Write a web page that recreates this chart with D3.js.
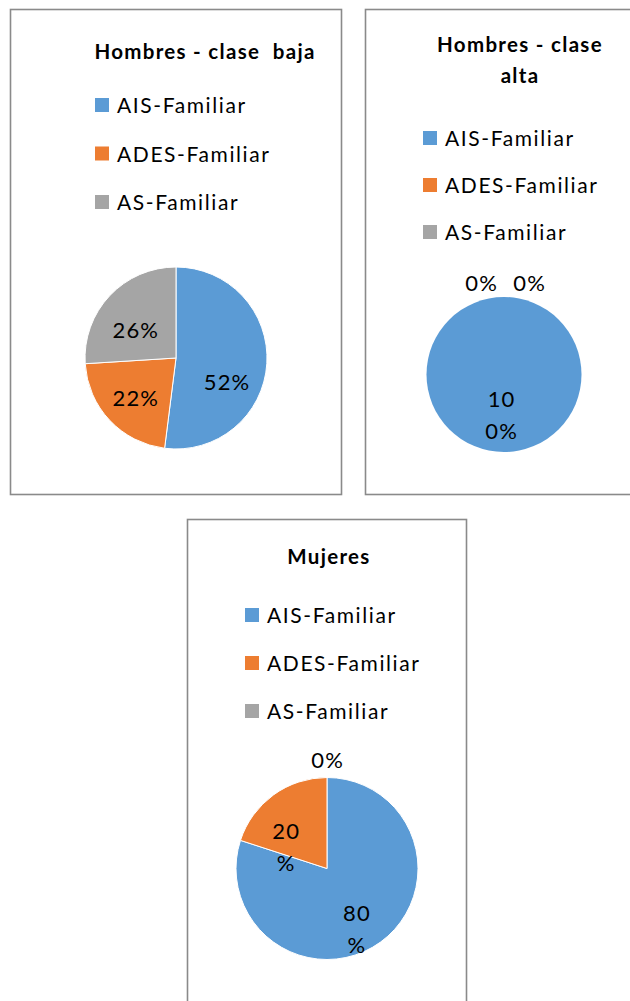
<!DOCTYPE html>
<html>
<head>
<meta charset="utf-8">
<script src="https://cdn.jsdelivr.net/npm/d3@7"></script>
<style>
  html, body { margin: 0; padding: 0; background: #ffffff; }
  svg { display: block; }
</style>
</head>
<body>
<div id="chart"></div>
<script>
// ---- DATA ----
const categories = ["AIS-Familiar", "ADES-Familiar", "AS-Familiar"];
const titles = [["Hombres - clase  baja"], ["Hombres - clase", "alta"], ["Mujeres"]];
const valuesHombresBaja = [52, 22, 26];
const valuesHombresAlta = [100, 0, 0];
const valuesMujeres = [80, 20, 0];
const colors = ["#5B9BD5", "#ED7D31", "#A5A5A5"];

// ---- LAYOUT (not data) ----
const panels = [
  { values: valuesHombresBaja, title: titles[0], box: [10.5, 9.5, 331, 485],
    titleX: 205, titleY: 59, legX: 95, legY: 98, legStep: 48.5,
    cx: 176, cy: 358, r: 91, labelR: 0.6, wrap: false,
    nudge: [[-4, 21], [-1, 3], [-1, 9]], zeroDx: [0, 0, 0] },
  { values: valuesHombresAlta, title: titles[1], box: [365.5, 9.5, 290, 485],
    titleX: 520, titleY: 52, legX: 423, legY: 131, legStep: 47,
    cx: 504, cy: 374.5, r: 77.5, labelR: 0.52, wrap: true,
    nudge: [[-3, 0], [0, 0], [0, 0]], zeroDx: [0, -23, 25], zeroGap: 14 },
  { values: valuesMujeres, title: titles[2], box: [187.5, 519.5, 279, 500],
    titleX: 329, titleY: 564, legX: 245, legY: 608, legStep: 48,
    cx: 327, cy: 868.5, r: 91, labelR: 0.7, wrap: true,
    nudge: [[-8, 9], [-4, 30], [0, 0]], zeroDx: [0, 0, 0], zeroGap: 17 }
];

const W = 630, H = 1001;
const svg = d3.select("#chart").append("svg")
  .attr("width", W).attr("height", H)
  .style("font-family", "Lato, 'Open Sans', sans-serif");

const color = d3.scaleOrdinal().domain(categories).range(colors);
const pie = d3.pie().sort(null).value(d => d.value);

panels.forEach(p => {
  const g = svg.append("g");
  g.append("rect")
    .attr("x", p.box[0]).attr("y", p.box[1])
    .attr("width", p.box[2]).attr("height", p.box[3])
    .attr("fill", "#ffffff").attr("stroke", "#8a8a8a").attr("stroke-width", 1.6);

  // title
  const t = g.append("text")
    .attr("x", p.titleX).attr("y", p.titleY)
    .attr("text-anchor", "middle")
    .style("font-weight", "bold").style("font-size", "20.5px")
    .style("letter-spacing", "1.3px")
    .style("white-space", "pre").attr("fill", "#000");
  p.title.forEach((line, i) => {
    t.append("tspan").attr("x", p.titleX).attr("y", p.titleY + i * 31).text(line);
  });

  // legend
  const leg = g.selectAll("g.leg").data(categories).enter().append("g");
  leg.append("rect")
    .attr("x", p.legX).attr("y", (d, i) => p.legY + i * p.legStep)
    .attr("width", 14).attr("height", 14)
    .attr("fill", d => color(d));
  leg.append("text")
    .attr("x", p.legX + 22).attr("y", (d, i) => p.legY + i * p.legStep + 15)
    .style("font-size", "21px").style("letter-spacing", "1.6px")
    .attr("fill", "#000").text(d => d);

  // pie
  const data = categories.map((c, i) => ({ cat: c, value: p.values[i] }));
  const arcs = pie(data);
  const arc = d3.arc().innerRadius(0).outerRadius(p.r);
  const labelArc = d3.arc().innerRadius(p.r * p.labelR).outerRadius(p.r * p.labelR);
  const pg = g.append("g").attr("transform", `translate(${p.cx},${p.cy})`);
  pg.selectAll("path").data(arcs).enter().append("path")
    .attr("d", arc)
    .attr("fill", d => color(d.data.cat))
    .attr("stroke", "#ffffff").attr("stroke-width", d => d.value > 0 && d.value < 100 ? 1 : 0);

  arcs.forEach((d, i) => {
    const label = d.value + "%";
    let x, y;
    if (d.value > 0) {
      const c = labelArc.centroid(d);
      x = c[0] + p.nudge[i][0];
      y = c[1] + p.nudge[i][1];
    } else {
      x = p.zeroDx[i];
      y = -p.r - p.zeroGap;
    }
    let lines = [label];
    if (p.wrap && d.value > 0) {
      lines = [label.slice(0, 2), label.slice(2)];
    }
    const lt = pg.append("text")
      .attr("text-anchor", "middle")
      .style("font-size", "22px").style("letter-spacing", "1.2px")
      .attr("fill", "#000");
    lines.forEach((ln, k) => {
      lt.append("tspan")
        .attr("x", x + 0.6)
        .attr("y", y + (k - (lines.length - 1) / 2) * 32)
        .attr("dy", "0.36em")
        .text(ln);
    });
  });
});
</script>
</body>
</html>
